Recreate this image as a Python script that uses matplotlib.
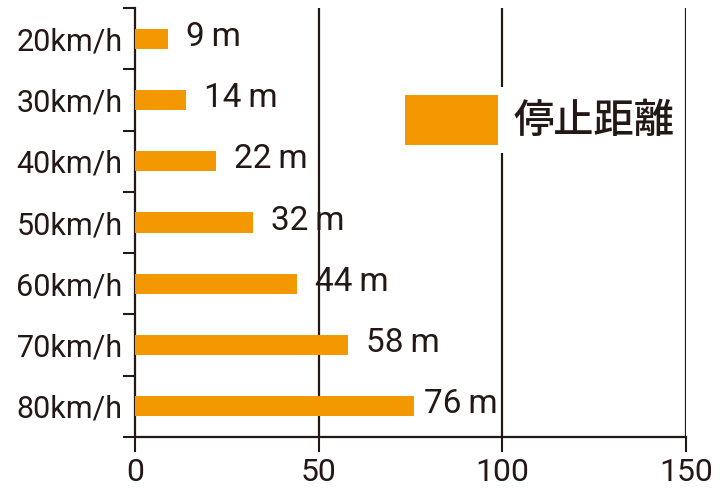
import matplotlib
matplotlib.use('Agg')
import matplotlib.pyplot as plt
from matplotlib.ticker import FixedLocator, NullFormatter

# stopping distance by speed
speeds = ['20km/h', '30km/h', '40km/h', '50km/h', '60km/h', '70km/h', '80km/h']
distances = [9, 14, 22, 32, 44, 58, 76]
value_labels = ['9\u2009m', '14\u2009m', '22\u2009m', '32\u2009m', '44\u2009m', '58\u2009m', '76\u2009m']
x_ticks = [0, 50, 100, 150]
legend_label = '停止距離'

orange = '#F39800'
ink = '#231815'
num_font = ['Roboto', 'DejaVu Sans']
cjk_font = ['Noto Sans CJK JP', 'DejaVu Sans']

fig = plt.figure(figsize=(7.24, 4.88), dpi=100)
ax = fig.add_axes([0.1865, 0.1045, 0.761, 0.879])

pos = list(range(len(speeds)))
bars = ax.barh(pos, distances, height=0.33, color=orange, zorder=3, label=legend_label)

for p, d, lab in zip(pos, distances, value_labels):
    off = 10 if d > 70 else 18
    ax.annotate(lab, (d, p), xytext=(off, 2), textcoords='offset pixels',
                ha='left', va='center', fontsize=24, color=ink, family=num_font)

ax.set_xlim(0, 150)
ax.set_ylim(len(speeds) - 0.5, -0.5)

# vertical grid lines
for gx in x_ticks[1:]:
    ax.axvline(gx, color=ink, lw=1.6, zorder=1)

ax.set_xticks(x_ticks)
ax.set_xticklabels([str(t) for t in x_ticks], fontsize=23, color=ink, family=num_font)
ax.tick_params(axis='x', direction='out', length=11, width=1.5, color=ink, pad=4)

ax.set_yticks(pos)
ax.set_yticklabels(speeds, fontsize=22, color=ink, family=num_font)
ax.yaxis.set_minor_locator(FixedLocator([p - 0.5 for p in pos] + [len(pos) - 0.5]))
ax.yaxis.set_minor_formatter(NullFormatter())
ax.tick_params(axis='y', which='major', length=0, pad=9)
ax.tick_params(axis='y', which='minor', direction='out', length=9, width=1.5, color=ink)

for s in ['top', 'right']:
    ax.spines[s].set_visible(False)
for s in ['left', 'bottom']:
    ax.spines[s].set_color(ink)
    ax.spines[s].set_linewidth(1.6)

leg = ax.legend(loc='upper left', bbox_to_anchor=(0.439, 0.864), frameon=True,
                fancybox=False, edgecolor='none', facecolor='white', framealpha=1,
                borderpad=0.2, handlelength=2.3, handleheight=1.55, handletextpad=0.4,
                prop={'family': cjk_font, 'size': 29, 'weight': 'medium'})
for t in leg.get_texts():
    t.set_color(ink)
leg.set_zorder(5)

fig.savefig('out.png', dpi=100)
